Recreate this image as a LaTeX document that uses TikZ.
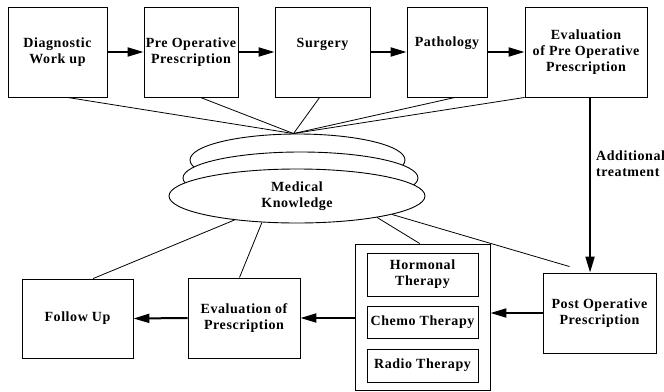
\documentclass[tikz,border=0pt]{standalone}
\usepackage{fontspec}
\setmainfont{Liberation Serif}
\newfontfamily\lblfont[LetterSpace=4]{Liberation Serif}
\usetikzlibrary{arrows.meta,calc,shapes.geometric}
\begin{document}
\begin{tikzpicture}[x=1pt,y=-1pt,
  lbl/.style={font=\lblfont\bfseries\fontsize{14}{16}\selectfont,align=center},
  box/.style={draw,line width=0.9pt,inner sep=0pt,lbl},
  txt/.style={inner sep=0pt,lbl},
  conn/.style={line width=0.8pt},
  arr/.style={line width=2pt,-{Triangle[length=16pt,width=9pt]}},
  layer/.style={draw,ellipse,fill=white,line width=0.9pt,inner sep=0pt,lbl}]
\useasboundingbox (0,0) rectangle (664,391);
% top row
\node[box,minimum width=99,minimum height=90] (diag) at (57.5,52) {Diagnostic\\Work up};
\node[box,minimum width=94,minimum height=90] (pre) at (191,52) {Pre Operative\\Prescription};
\node[box,minimum width=95,minimum height=90] (surg) at (322.5,52) {};
\node[txt] (surgt) at (322.5,44) {Surgery};
\node[box,minimum width=80,minimum height=90] (path) at (447,52) {};
\node[txt] (patht) at (447,43) {Pathology};
\node[box,minimum width=122,minimum height=90] (ep) at (586,52) {Evaluation\\of Pre Operative\\Prescription};
% ellipses
\node[layer,minimum width=215,minimum height=52] (mk3) at (297.5,160) {};
\node[layer,minimum width=235,minimum height=52] (mk2) at (300.5,178) {};
\node[layer,minimum width=256,minimum height=54] (mk) at (297,196) {Medical\\Knowledge};
% bottom row
\node[box,minimum width=111,minimum height=79] (fu) at (77.5,318.5) {Follow Up};
\node[box,minimum width=112,minimum height=80] (ev) at (244,318) {Evaluation of\\Prescription};
\node[box,minimum width=135,minimum height=146] (th) at (422.5,317) {};
\node[box,minimum width=111,minimum height=43] (ho) at (422.5,274.5) {Hormonal\\Therapy};
\node[box,minimum width=111,minimum height=32] (ch) at (422.5,322) {Chemo Therapy};
\node[box,minimum width=111,minimum height=33] (ra) at (422.5,365.5) {Radio Therapy};
\node[box,minimum width=113,minimum height=80] (po) at (599.5,313) {Post Operative\\Prescription};
\node[txt,anchor=west,align=left] (add) at (596,164) {Additional\\treatment};
% top arrows
\draw[arr] (diag.east) -- (pre.west);
\draw[arr] (pre.east) -- (surg.west);
\draw[arr] (surg.east) -- (path.west);
\draw[arr] (path.east) -- (ep.west);
% lines to knowledge
\coordinate (conv) at ($(mk3.north)+(-4,0)$);
\draw[conn] ($(diag.south west)!0.6!(diag.south east)$) -- (conv);
\draw[conn] ($(pre.south west)!0.6!(pre.south east)$) -- (conv);
\draw[conn] ($(surg.south west)!0.47!(surg.south east)$) -- (conv);
\draw[conn] ($(path.south west)!0.6!(path.south east)$) -- (conv);
\draw[conn] (ep.south west) -- (conv);
\draw[conn] (mk.201) -- ($(fu.north west)!0.64!(fu.north east)$);
\draw[conn] (mk.217) -- ($(ev.north west)!0.46!(ev.north east)$);
\draw[conn] (mk.345) -- ($(th.north west)!0.48!(th.north east)$);
\coordinate (poend) at ($(po.north west)+(27,-6)$);
\draw[conn] (mk.349) -- (poend);
% vertical arrow
\coordinate (va) at ($(ep.south west)!0.533!(ep.south east)$);
\draw[arr] (va) -- (va |- po.north);
% bottom arrows
\draw[arr] (po.west) -- (po.west -| th.east);
\draw[arr] (ev.east -| th.west) -- (ev.east);
\draw[arr] (ev.west) -- (fu.east);
\end{tikzpicture}
\end{document}
